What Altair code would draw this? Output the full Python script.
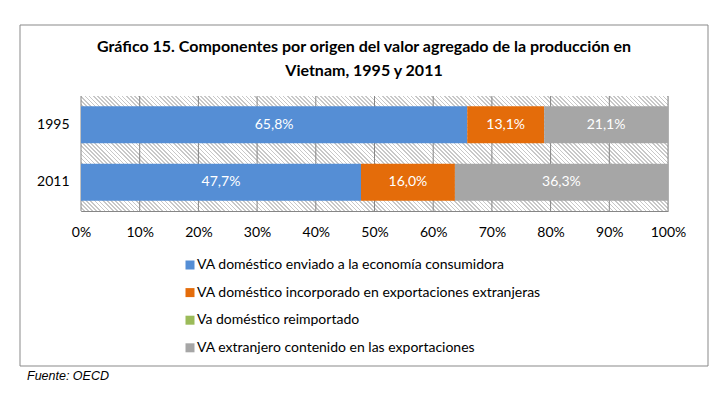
import altair as alt
import pandas as pd

years = ["1995", "2011"]
components = [
    "VA doméstico enviado a la economía consumidora",
    "VA doméstico incorporado en exportaciones extranjeras",
    "Va doméstico reimportado",
    "VA extranjero contenido en las exportaciones",
]
values_1995 = [65.8, 13.1, 0.0, 21.1]
values_2011 = [47.7, 16.0, 0.0, 36.3]
colors = ["#558ED5", "#E46C0A", "#9BBB59", "#A6A6A6"]
x_ticks = [0, 10, 20, 30, 40, 50, 60, 70, 80, 90, 100]
title_lines = ["Gráfico 15. Componentes por origen del valor agregado de la producción en",
               "Vietnam, 1995 y 2011"]
source_text = "Fuente: OECD"

rows = []
for y, vals in zip(years, [values_1995, values_2011]):
    for i, (c, v) in enumerate(zip(components, vals)):
        rows.append({"year": y, "comp": c, "order": i, "value": v,
                     "label": f"{v:.1f}".replace(".", ",") + "%"})
df = pd.DataFrame(rows)
ticks_df = pd.DataFrame({"t": x_ticks})

FONT = "Lato"
W, H = 587, 115

# diagonal hatch as a striped linear gradient (style only)
N = 170
stops = []
for i in range(N):
    a = i / N
    b = (i + 0.6) / N
    c = (i + 1) / N
    stops += [{"offset": round(a, 5), "color": "#ffffff"},
              {"offset": round(b, 5), "color": "#ffffff"},
              {"offset": round(b, 5), "color": "#c8c8c8"},
              {"offset": round(c, 5), "color": "#c8c8c8"}]
k = (W + H) / (W * W + H * H)
hatch = alt.LinearGradient(gradient="linear", x1=0, y1=1, x2=round(k * W, 5),
                           y2=round(1 - k * H, 5),
                           stops=[alt.GradientStop(**s) for s in stops])

xscale = alt.Scale(domain=[0, 100], nice=False)
yscale = alt.Scale(domain=years, paddingInner=0.36, paddingOuter=0.18)

x_axis = alt.Axis(values=x_ticks, labelExpr="datum.value + '%'", title=None,
                  grid=False, ticks=False, domain=True, domainColor="#868686",
                  labelFont=FONT, labelFontSize=14, labelColor="#000000",
                  labelPadding=14, labelFlush=False)

bg = alt.Chart(pd.DataFrame({"a": [0]})).mark_rect(color=hatch, strokeWidth=0).encode(
    x=alt.value(0), x2=alt.value("width"),
    y=alt.value(0), y2=alt.value("height"))

grid = alt.Chart(ticks_df).mark_rule(color="#868686", strokeWidth=1).encode(
    x=alt.X("t:Q", scale=xscale, axis=x_axis),
    y=alt.value(0), y2=alt.value("height"))

bars = alt.Chart(df).mark_bar().encode(
    x=alt.X("value:Q", stack="zero", scale=xscale, axis=x_axis),
    y=alt.Y("year:N", scale=yscale,
            axis=alt.Axis(title=None, ticks=False, domainColor="#868686",
                          labelFont=FONT, labelFontSize=14, labelColor="#000000",
                          labelPadding=12)),
    color=alt.Color("comp:N", scale=alt.Scale(domain=components, range=colors),
                    sort=components,
                    legend=alt.Legend(title=None, orient="none", legendX=102, legendY=162,
                                      direction="vertical", symbolType="square",
                                      symbolSize=81, symbolStrokeWidth=0,
                                      labelFont=FONT, labelFontSize=14, labelColor="#000000",
                                      labelOffset=0, rowPadding=13.6, labelLimit=500)),
    order=alt.Order("order:Q"),
)

labels = alt.Chart(df).transform_filter("datum.value > 0").transform_stack(
    stack="value", groupby=["year"], sort=[alt.SortField("order")], as_=["v0", "v1"]
).transform_calculate(mid="(datum.v0 + datum.v1) / 2").mark_text(
    color="white", font=FONT, fontSize=14).encode(
    x=alt.X("mid:Q", scale=xscale), y=alt.Y("year:N", scale=yscale), text="label:N")

border = alt.Chart(pd.DataFrame({"a": [0]})).mark_rect(
    fill="transparent", stroke="#898989", strokeWidth=1).encode(
    x=alt.value(-61), x2=alt.value(627), y=alt.value(-71), y2=alt.value(270))

title = alt.Chart(pd.DataFrame({"s": ["\n".join(title_lines)]})).mark_text(
    align="center", baseline="middle", font=FONT, fontWeight="bold", fontSize=16,
    lineBreak="\n", lineHeight=24, color="#000000").encode(
    x=alt.value(283), y=alt.value(-49), text="s:N")

src = alt.Chart(pd.DataFrame({"s": [source_text]})).mark_text(
    align="left", baseline="middle", font="Liberation Sans", fontStyle="italic",
    fontSize=12.5, color="#000000").encode(
    x=alt.value(-54), y=alt.value(280), text="s:N")

chart = alt.layer(bg, grid, bars, labels, border, title, src).properties(
    width=W, height=H,
    autosize=alt.AutoSizeParams(type="none"),
    padding={"left": 73, "top": 88, "right": 41, "bottom": 178},
).configure_view(stroke=None).configure(background="white")

chart.save("out.html", embed_options={"renderer": "svg", "actions": False})
